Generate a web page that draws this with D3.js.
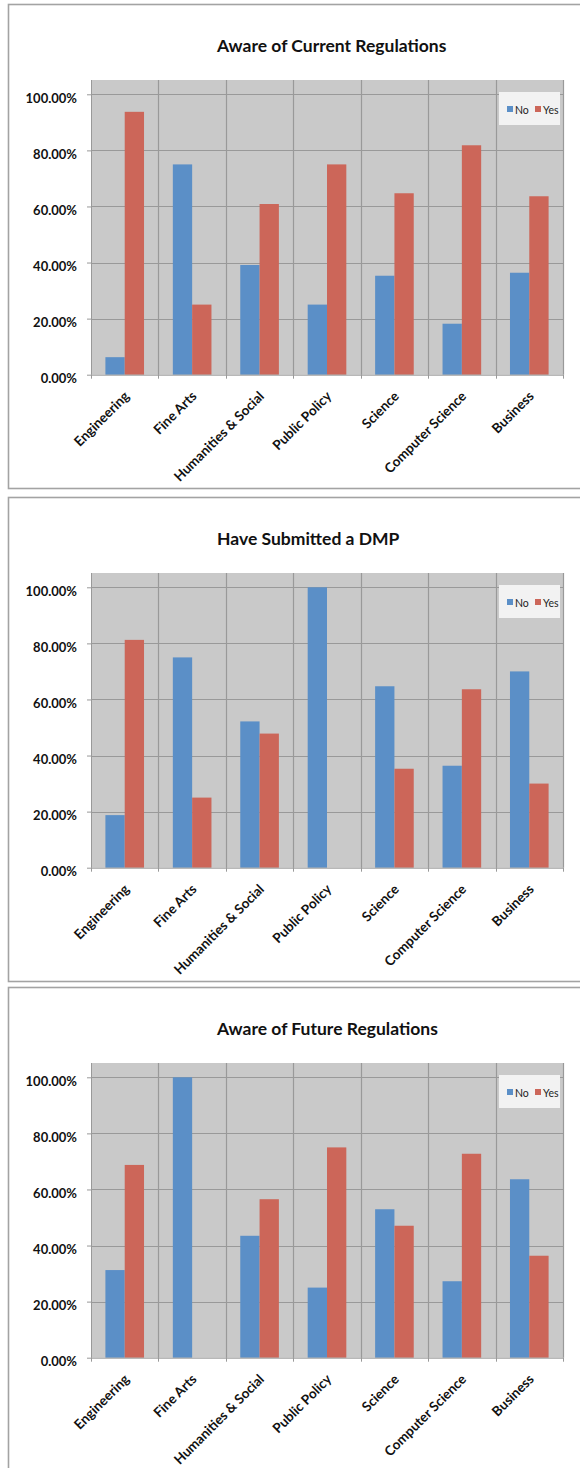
<!DOCTYPE html>
<html>
<head>
<meta charset="utf-8">
<script src="https://cdn.jsdelivr.net/npm/d3@7"></script>
<style>
  html, body { margin: 0; padding: 0; background: #ffffff; }
  svg { display: block; }
</style>
</head>
<body>
<script>
// ---------- DATA ----------
const categories = ["Engineering", "Fine Arts", "Humanities & Social", "Public Policy", "Science", "Computer Science", "Business"];
const seriesNames = ["No", "Yes"];
const chartTitles = ["Aware of Current Regulations", "Have Submitted a DMP", "Aware of Future Regulations"];

const currentNo  = [0.0625, 0.75, 0.3913, 0.25, 0.3529, 0.1818, 0.3636];
const currentYes = [0.9375, 0.25, 0.6087, 0.75, 0.6471, 0.8182, 0.6364];

const dmpNo  = [0.1875, 0.75, 0.5217, 1.00, 0.6471, 0.3636, 0.70];
const dmpYes = [0.8125, 0.25, 0.4783, 0.00, 0.3529, 0.6364, 0.30];

const futureNo  = [0.3125, 1.00, 0.4348, 0.25, 0.5294, 0.2727, 0.6364];
const futureYes = [0.6875, 0.00, 0.5652, 0.75, 0.4706, 0.7273, 0.3636];

const yTickValues = [0, 0.2, 0.4, 0.6, 0.8, 1.0];

// ---------- LAYOUT ----------
const W = 580, H = 1468;
const panelTops = [4, 497, 987];
const panelData = [
  [currentNo, currentYes],
  [dmpNo, dmpYes],
  [futureNo, futureYes]
];
const colors = { No: "#5b8fc7", Yes: "#cc6659" };
const plotLeft = 91, plotRight = 563;
const rel = { plotTop: 76, y0: 370.7, y100: 90.3, title: 48 };
const FONT = "Lato, 'Open Sans', sans-serif";

const svg = d3.select("body").append("svg")
  .attr("width", W).attr("height", H)
  .attr("viewBox", `0 0 ${W} ${H}`);

const x0 = d3.scaleBand().domain(categories).range([plotLeft, plotRight]).padding(0);
const x1 = d3.scaleBand().domain(seriesNames).range([0, x0.bandwidth()]).paddingInner(0).paddingOuter(0.746);

panelTops.forEach((top, pi) => {
  const g = svg.append("g");
  const isLast = pi === panelTops.length - 1;

  // panel frame
  g.append("rect")
    .attr("x", 8.5).attr("y", top + 0.5)
    .attr("width", 640).attr("height", isLast ? 600 : 484)
    .attr("fill", "#ffffff")
    .attr("stroke", "#a3a3a3").attr("stroke-width", 1.6);

  const y = d3.scaleLinear().domain([0, 1]).range([top + rel.y0, top + rel.y100]);
  const plotTop = top + rel.plotTop;
  const plotBottom = y(0);

  // plot background
  g.append("rect")
    .attr("x", plotLeft).attr("y", plotTop)
    .attr("width", plotRight - plotLeft).attr("height", plotBottom - plotTop)
    .attr("fill", "#c9c9c9");

  // horizontal gridlines
  g.append("g").selectAll("line").data(yTickValues.filter(d => d > 0)).join("line")
    .attr("x1", plotLeft).attr("x2", plotRight)
    .attr("y1", d => Math.round(y(d)) + 0.5).attr("y2", d => Math.round(y(d)) + 0.5)
    .attr("stroke", "#999999").attr("stroke-width", 1.2);

  // vertical gridlines at category boundaries
  const bounds = categories.map(c => x0(c)).concat([x0.range()[1]]);
  g.append("g").selectAll("line").data(bounds.slice(1)).join("line")
    .attr("x1", d => Math.round(d) + 0.5).attr("x2", d => Math.round(d) + 0.5)
    .attr("y1", plotTop).attr("y2", plotBottom)
    .attr("stroke", "#999999").attr("stroke-width", 1.2);

  // bars
  const [noVals, yesVals] = panelData[pi];
  const rows = categories.map((c, i) => ({ cat: c, No: noVals[i], Yes: yesVals[i] }));
  g.append("g").selectAll("g").data(rows).join("g")
    .attr("transform", d => `translate(${x0(d.cat)},0)`)
    .selectAll("rect")
    .data(d => seriesNames.map(s => ({ s, v: d[s] })))
    .join("rect")
    .attr("x", d => x1(d.s))
    .attr("width", x1.bandwidth())
    .attr("y", d => y(d.v))
    .attr("height", d => y(0) - y(d.v))
    .attr("fill", d => colors[d.s]);

  // y axis
  const yAxis = g.append("g")
    .attr("transform", `translate(${plotLeft},0)`)
    .call(d3.axisLeft(y).tickValues(yTickValues).tickFormat(d3.format(".2%")).tickSize(4).tickPadding(10).tickSizeOuter(0));
  yAxis.select(".domain").attr("stroke", "#999999").attr("d", `M0.5,${plotTop}V${plotBottom}`);
  yAxis.selectAll(".tick line").attr("stroke", "#999999");
  yAxis.selectAll(".tick text")
    .attr("dy", "0.62em")
    .attr("fill", "#111")
    .style("font-family", FONT).style("font-size", "13px").style("font-weight", "bold");

  // x axis (labels)
  const xAxis = g.append("g")
    .attr("transform", `translate(0,${plotBottom})`)
    .call(d3.axisBottom(x0).tickSize(0).tickPadding(0));
  xAxis.select(".domain").attr("stroke", "#999999").attr("d", `M${plotLeft},0.5H${plotRight}`);
  xAxis.selectAll(".tick text")
    .attr("x", 0).attr("y", 0).attr("dy", "0.35em")
    .attr("transform", "translate(2,19) rotate(-45)")
    .attr("text-anchor", "end")
    .attr("fill", "#111")
    .style("font-family", FONT).style("font-size", "13.5px").style("font-weight", "bold");
  // boundary tick marks
  xAxis.append("g").selectAll("line").data(bounds).join("line")
    .attr("x1", d => Math.round(d) + 0.5).attr("x2", d => Math.round(d) + 0.5)
    .attr("y1", 0).attr("y2", 4)
    .attr("stroke", "#999999");

  // title
  g.append("text")
    .attr("x", 217).attr("y", top + rel.title)
    .attr("fill", "#111")
    .style("font-family", FONT).style("font-size", "17.5px").style("font-weight", "bold")
    .text(chartTitles[pi]);

  // legend
  const lg = g.append("g").attr("transform", `translate(499,${top + 88})`);
  lg.append("rect").attr("width", 61).attr("height", 33).attr("fill", "#f2f2f2");
  const lx = [8, 36];
  seriesNames.forEach((s, i) => {
    lg.append("rect").attr("x", lx[i]).attr("y", 14).attr("width", 6).attr("height", 6).attr("fill", colors[s]);
    lg.append("text").attr("x", lx[i] + 8).attr("y", 22)
      .attr("fill", "#222")
      .style("font-family", FONT).style("font-size", "10.5px")
      .text(s);
  });
});
</script>
</body>
</html>
